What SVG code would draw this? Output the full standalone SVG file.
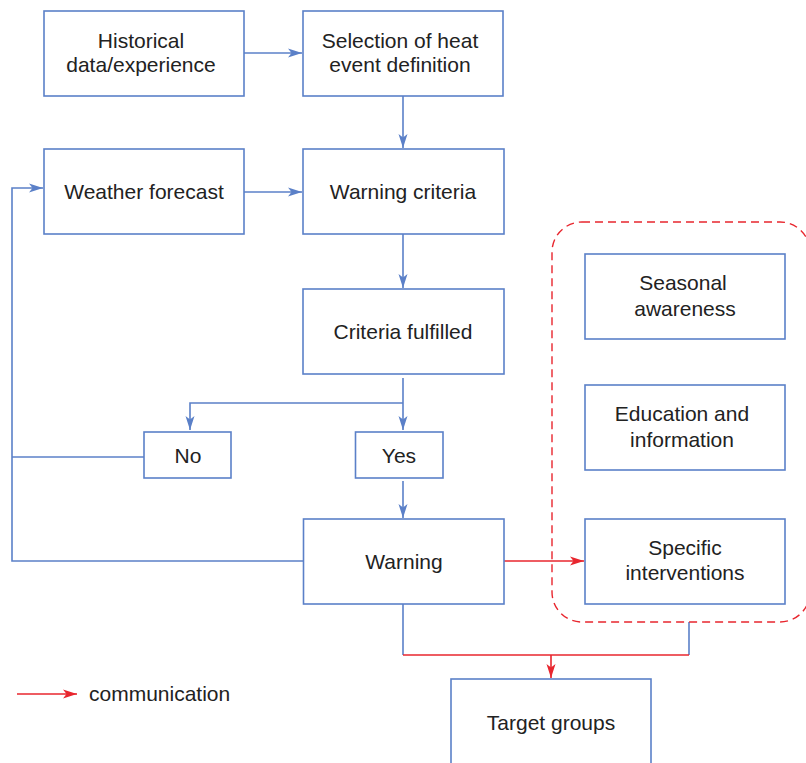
<svg xmlns="http://www.w3.org/2000/svg" width="806" height="763" viewBox="0 0 806 763">
<defs>
<style>
.box{fill:#fff;stroke:#5b80c8;stroke-width:1.6}
.t{font-family:"Liberation Sans",Arial,Helvetica,sans-serif;font-size:21px;fill:#222;text-anchor:middle}
.tl{font-family:"Liberation Sans",Arial,Helvetica,sans-serif;font-size:21px;fill:#222}
.b{fill:none;stroke:#5b80c8;stroke-width:1.6}
.r{fill:none;stroke:#e8262e;stroke-width:1.6}
.dash{fill:none;stroke:#e8262e;stroke-width:1.4;stroke-dasharray:8 5}
</style>
<marker id="ab" markerUnits="userSpaceOnUse" markerWidth="15" markerHeight="11" refX="14" refY="5.5" orient="auto">
<path d="M0,1 L14,5.5 L0,10 L3.5,5.5 z" fill="#5b80c8"/>
</marker>
<marker id="ar" markerUnits="userSpaceOnUse" markerWidth="15" markerHeight="11" refX="14" refY="5.5" orient="auto">
<path d="M0,1 L14,5.5 L0,10 L3.5,5.5 z" fill="#e8262e"/>
</marker>
</defs>
<rect width="806" height="763" fill="#fff"/>

<g id="connectors">
<path class="b" d="M244,53 H302" marker-end="url(#ab)"/>
<path class="b" d="M403,96 V148" marker-end="url(#ab)"/>
<path class="b" d="M244,192 H302" marker-end="url(#ab)"/>
<path class="b" d="M403,234 V288" marker-end="url(#ab)"/>
<path class="b" d="M403,378 V430" marker-end="url(#ab)"/>
<path class="b" d="M403,403 H190 V430" marker-end="url(#ab)"/>
<path class="b" d="M403,481 V518" marker-end="url(#ab)"/>
<path class="b" d="M144,457 H12"/>
<path class="b" d="M303,561 H12 V188 H43" marker-end="url(#ab)"/>
<path class="r" d="M504,561 H584" marker-end="url(#ar)"/>
<path class="b" d="M403,604 V655"/>
<path class="b" d="M689,622 V655"/>
<path class="r" d="M403,655 H689"/>
<path class="r" d="M551,655 V678" marker-end="url(#ar)"/>
<path class="r" d="M17,694 H77" marker-end="url(#ar)"/>
</g>

<rect id="group-communication" class="dash" x="552" y="222" width="258" height="400" rx="30" ry="30"/>

<g id="historical">
<rect class="box" x="44" y="11" width="200" height="85"/>
<text class="t" x="141" y="47.5">Historical</text>
<text class="t" x="141" y="72">data/experience</text>
</g>
<g id="selection">
<rect class="box" x="303" y="11" width="200" height="85"/>
<text class="t" x="400" y="47.5">Selection of heat</text>
<text class="t" x="400" y="72">event definition</text>
</g>
<g id="weather">
<rect class="box" x="44" y="149" width="200" height="85"/>
<text class="t" x="144" y="199">Weather forecast</text>
</g>
<g id="criteria">
<rect class="box" x="303" y="149" width="201" height="85"/>
<text class="t" x="403" y="199">Warning criteria</text>
</g>
<g id="fulfilled">
<rect class="box" x="303" y="289" width="201" height="85"/>
<text class="t" x="403" y="339">Criteria fulfilled</text>
</g>
<g id="no">
<rect class="box" x="144" y="432" width="87" height="46"/>
<text class="t" x="188" y="463">No</text>
</g>
<g id="yes">
<rect class="box" x="355.5" y="432" width="87.5" height="46"/>
<text class="t" x="399" y="463">Yes</text>
</g>
<g id="warning">
<rect class="box" x="303.5" y="519" width="200.5" height="85"/>
<text class="t" x="404" y="569">Warning</text>
</g>
<g id="seasonal">
<rect class="box" x="585" y="254" width="200" height="85"/>
<text class="t" x="683" y="290">Seasonal</text>
<text class="t" x="685" y="315.5">awareness</text>
</g>
<g id="education">
<rect class="box" x="585" y="385" width="200" height="85"/>
<text class="t" x="682" y="421">Education and</text>
<text class="t" x="682" y="446.5">information</text>
</g>
<g id="specific">
<rect class="box" x="585" y="519" width="200" height="85"/>
<text class="t" x="685" y="554.5">Specific</text>
<text class="t" x="685" y="580">interventions</text>
</g>
<g id="target">
<rect class="box" x="451" y="679" width="200" height="100"/>
<text class="t" x="551" y="730">Target groups</text>
</g>
<g id="legend">
<text class="tl" x="89" y="701">communication</text>
</g>
</svg>
